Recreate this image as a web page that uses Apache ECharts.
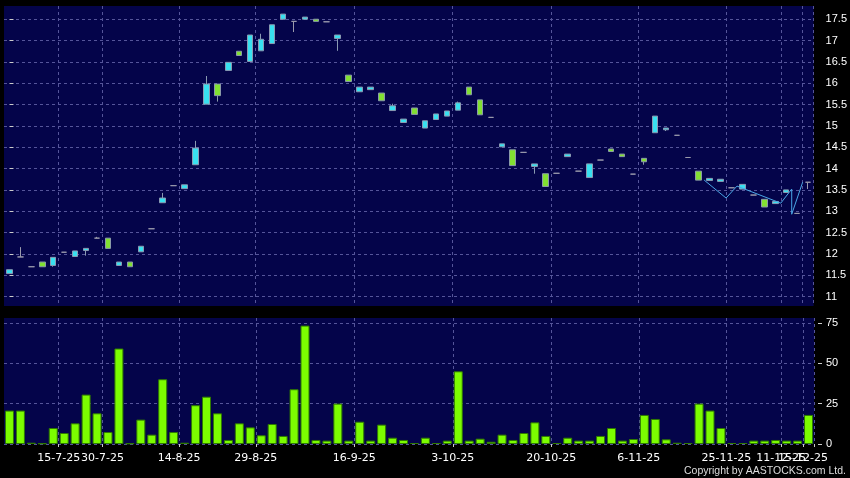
<!DOCTYPE html>
<html><head><meta charset="utf-8">
<script src="https://cdn.jsdelivr.net/npm/echarts@6/dist/echarts.min.js"></script>
<style>html,body{margin:0;padding:0;background:#000;}#c{width:850px;height:478px;}</style>
</head><body><div id="c"></div>
<script>
const dates = ['7-7-25','8-7-25','9-7-25','10-7-25','11-7-25','15-7-25','17-7-25','21-7-25','24-7-25','30-7-25',
 '31-7-25','1-8-25','4-8-25','6-8-25','11-8-25','13-8-25','14-8-25','18-8-25','19-8-25','20-8-25',
 '21-8-25','22-8-25','27-8-25','29-8-25','1-9-25','2-9-25','3-9-25','4-9-25','5-9-25','8-9-25',
 '10-9-25','12-9-25','16-9-25','17-9-25','18-9-25','19-9-25','22-9-25','24-9-25','25-9-25','26-9-25',
 '30-9-25','3-10-25','6-10-25','8-10-25','9-10-25','10-10-25','13-10-25','14-10-25','15-10-25','16-10-25',
 '20-10-25','21-10-25','22-10-25','23-10-25','27-10-25','28-10-25','30-10-25','3-11-25','6-11-25','7-11-25',
 '10-11-25','12-11-25','14-11-25','18-11-25','20-11-25','21-11-25','25-11-25','28-11-25','2-12-25','4-12-25',
 '8-12-25','11-12-25','12-12-25','15-12-25'];
const opens = [11.54,11.93,11.70,11.81,11.73,12.04,11.94,12.08,12.37,12.37,
 11.73,11.81,12.05,12.59,13.20,13.60,13.53,14.09,15.51,15.98,
 16.30,16.75,16.51,16.76,16.93,17.50,17.45,17.50,17.50,17.44,
 17.05,16.19,15.80,15.85,15.77,15.36,15.08,15.42,14.95,15.15,
 15.23,15.37,15.91,15.61,15.20,14.51,14.44,14.38,14.05,13.88,
 13.89,14.28,13.94,13.79,14.20,14.46,14.34,13.87,14.24,14.84,
 14.91,14.78,14.26,13.94,13.72,13.70,13.55,13.52,13.38,13.28,
 13.18,13.44,12.95,13.68];
const closes = [11.63,11.93,11.70,11.70,11.92,12.04,12.07,12.13,12.37,12.13,
 11.81,11.70,12.18,12.59,13.31,13.60,13.62,14.48,15.98,15.71,
 16.49,16.65,17.13,17.03,17.37,17.62,17.45,17.55,17.45,17.44,
 17.13,16.04,15.91,15.91,15.59,15.47,15.16,15.27,15.12,15.28,
 15.35,15.54,15.73,15.26,15.20,14.58,14.07,14.38,14.11,13.58,
 13.89,14.34,13.94,14.11,14.20,14.40,14.28,13.87,14.16,15.23,
 14.95,14.78,14.26,13.73,13.77,13.75,13.55,13.63,13.38,13.10,
 13.23,13.50,12.95,13.68];
const lows = [11.54,11.93,11.70,11.70,11.70,12.04,11.94,11.96,12.37,12.13,
 11.73,11.70,12.05,12.59,13.20,13.60,13.53,14.09,15.51,15.57,
 16.30,16.65,16.51,16.76,16.93,17.50,17.20,17.50,17.45,17.44,
 16.76,16.04,15.80,15.85,15.59,15.36,15.08,15.27,14.95,15.15,
 15.23,15.37,15.73,15.26,15.20,14.51,14.07,14.38,13.88,13.58,
 13.89,14.28,13.94,13.79,14.20,14.40,14.28,13.87,14.09,14.84,
 14.88,14.78,14.26,13.73,13.72,13.70,13.55,13.52,13.38,13.10,
 13.18,13.44,12.95,13.52];
const highs = [11.63,12.16,11.70,11.81,11.92,12.04,12.07,12.13,12.40,12.37,
 11.81,11.81,12.18,12.59,13.43,13.60,13.62,14.65,16.17,15.98,
 16.49,16.75,17.13,17.16,17.37,17.62,17.45,17.55,17.50,17.44,
 17.13,16.19,15.91,15.91,15.77,15.52,15.16,15.42,15.12,15.28,
 15.35,15.57,15.91,15.61,15.20,14.58,14.44,14.38,14.11,13.88,
 13.89,14.34,13.94,14.11,14.20,14.46,14.34,13.87,14.24,15.23,
 14.95,14.78,14.26,13.94,13.77,13.75,13.55,13.63,13.38,13.28,
 13.23,13.50,12.95,13.68];
const volumes = [20.7,20.7,0.8,0.4,9.9,6.8,12.8,30.6,19.0,7.4,
 59.1,0.4,15.1,5.8,40.1,7.4,0.8,24.0,29.3,19.0,
 2.5,12.8,10.3,5.4,12.4,5.0,33.9,73.3,2.5,2.1,
 25.0,2.1,13.8,2.1,12.0,3.9,2.5,0.6,3.9,0.6,
 2.1,45.0,2.1,3.3,1.4,5.8,2.5,6.8,13.4,5.0,
 0.6,3.9,2.1,2.1,5.0,9.9,2.1,3.1,18.0,15.5,
 2.9,0.8,0.6,25.0,20.7,9.9,0.6,0.6,2.1,2.1,
 2.5,2.1,2.1,18.0];
const labelIndices = [5,9,16,23,32,41,50,58,66,71,73];
const priceTicks = [11,11.5,12,12.5,13,13.5,14,14.5,15,15.5,16,16.5,17,17.5];
const volumeTicks = [0,25,50,75];
const lineX = [63.5,65.5,66.5,70.5,71.5,71.5,72.5];
const lineY = [13.73,13.31,13.59,13.19,13.52,12.93,13.68];

const chart = echarts.init(document.getElementById('c'), null, {renderer:'canvas'});
const lastIdx = dates.length - 1;
const catInterval = function (idx) { return labelIndices.indexOf(idx) >= 0; };
const labelIntervalA = function (idx) { return idx !== lastIdx && labelIndices.indexOf(idx) >= 0; };
const labelIntervalB = function (idx) { return idx === lastIdx && labelIndices.indexOf(idx) >= 0; };
const gridLineStyle = {color:'#55559a', type:[3,3], width:1};
const panelBg = '#04044a';
const xLabelStyle = {color:'#ffffff', fontFamily:'DejaVu Sans', fontSize:11, margin:9, padding:[0,11,0,0], hideOverlap:false, showMaxLabel:true};

const option = {
  backgroundColor: '#000',
  animation: false,
  grid: [
    {left:4, right:36, top:6, height:300, show:true, backgroundColor:panelBg, borderWidth:0},
    {left:4, right:36, top:318, height:126, show:true, backgroundColor:panelBg, borderWidth:0}
  ],
  xAxis: [
    {type:'category', gridIndex:0, position:'bottom', data:dates, boundaryGap:true,
     axisLine:{show:false}, axisTick:{show:false, interval:catInterval},
     axisLabel:{show:false, interval:catInterval},
     splitLine:{show:true, interval:catInterval, lineStyle:gridLineStyle}},
    {type:'category', gridIndex:1, position:'bottom', data:dates, boundaryGap:true,
     axisLine:{show:false},
     axisTick:{show:true, interval:catInterval, length:3, lineStyle:{color:'#cccccc'}},
     axisLabel:Object.assign({interval:labelIntervalA}, xLabelStyle),
     splitLine:{show:true, interval:catInterval, lineStyle:gridLineStyle}},
    {type:'value', gridIndex:0, position:'top', min:-0.5, max:73.5, show:false},
    {type:'category', gridIndex:1, position:'bottom', data:dates, boundaryGap:true,
     axisLine:{show:false}, axisTick:{show:false}, splitLine:{show:false},
     axisLabel:Object.assign({interval:labelIntervalB}, xLabelStyle)}
  ],
  yAxis: [
    {type:'value', gridIndex:0, position:'right', min:10.78, max:17.81, offset:4,
     axisLine:{show:false},
     axisTick:{show:true, customValues:priceTicks, length:4, lineStyle:{color:'#cccccc'}},
     axisLabel:{customValues:priceTicks, color:'#ffffff', fontFamily:'Liberation Sans', fontSize:11, margin:8},
     splitLine:{show:true, lineStyle:gridLineStyle}},
    {type:'value', gridIndex:1, position:'right', min:0, max:78, offset:4,
     axisLine:{show:false},
     axisTick:{show:true, customValues:volumeTicks, length:4, lineStyle:{color:'#cccccc'}},
     axisLabel:{customValues:volumeTicks, color:'#ffffff', fontFamily:'Liberation Sans', fontSize:11, margin:8},
     splitLine:{show:true, lineStyle:gridLineStyle}}
  ],
  series: [
    {type:'candlestick', xAxisIndex:0, yAxisIndex:0, barWidth:6,
     data: dates.map(function (d, i) { return [opens[i], closes[i], lows[i], highs[i]]; }),
     itemStyle:{color:'#38e0f0', color0:'#82e032', borderColor:'#8a9ab2', borderColor0:'#8a9aa8', borderColorDoji:'#9a9aac', borderWidth:1}},
    {type:'line', xAxisIndex:2, yAxisIndex:0, symbol:'none', z:5,
     data: lineX.map(function (x, i) { return [x, lineY[i]]; }),
     lineStyle:{color:'#4aa6e6', width:1}},
    {type:'bar', xAxisIndex:1, yAxisIndex:1, barWidth:9, data: volumes,
     itemStyle:{color:'#7cfc00', borderColor:'#2f7a00', borderWidth:1}}
  ],
  graphic: [
    {type:'text', x:846, y:471, style:{text:'Copyright by AASTOCKS.com Ltd.', fill:'#dddddd', fontSize:10.5, fontFamily:'Liberation Sans', align:'right', verticalAlign:'middle'}}
  ]
};
chart.setOption(option);
</script>
</body></html>
